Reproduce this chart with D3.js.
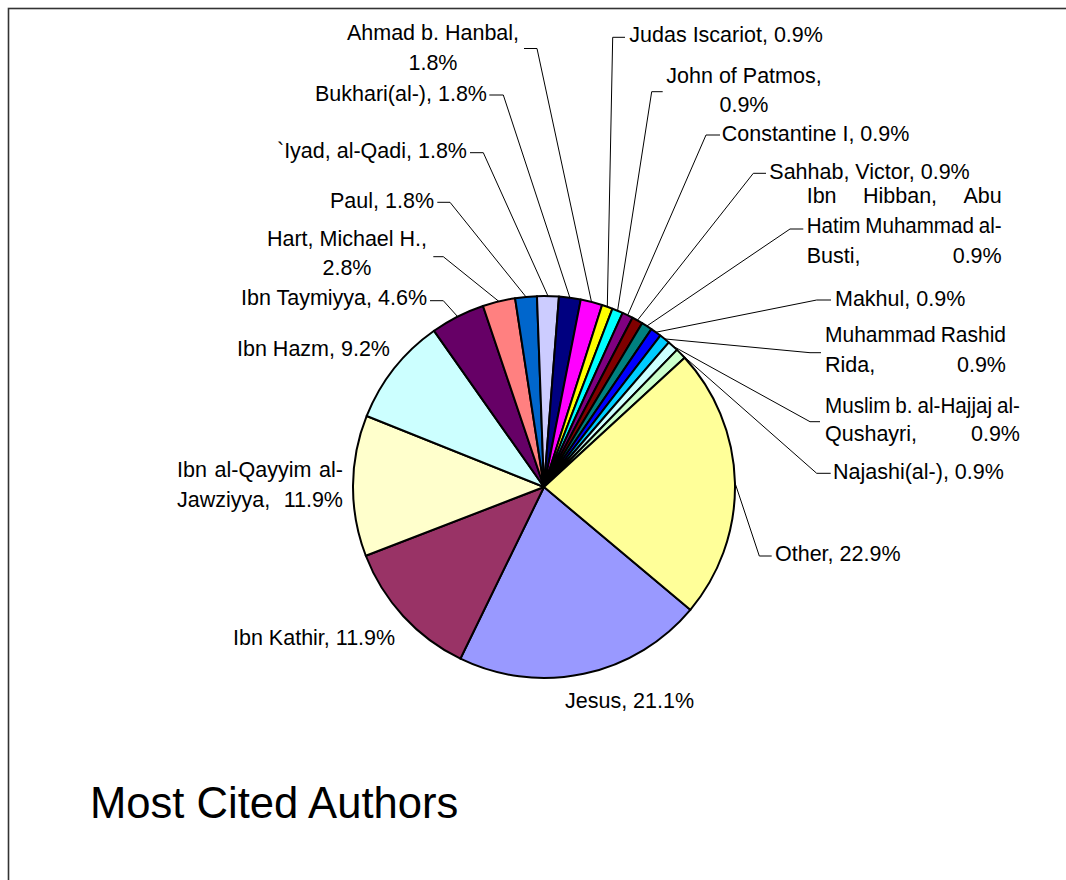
<!DOCTYPE html>
<html>
<head>
<meta charset="utf-8">
<script src="https://cdn.jsdelivr.net/npm/d3@7"></script>
<style>
  html, body { margin: 0; padding: 0; background: #fff; }
  svg { display: block; }
  text { font-family: "Liberation Sans", Arial, sans-serif; fill: #000; }
</style>
</head>
<body>
<svg id="chart" width="1066" height="880"></svg>
<script>
// ---------- DATA ----------
const categories = [
  "Jesus", "Ibn Kathir", "Ibn al-Qayyim al-Jawziyya", "Ibn Hazm", "Ibn Taymiyya",
  "Hart, Michael H.", "Paul", "`Iyad, al-Qadi", "Bukhari(al-)", "Ahmad b. Hanbal",
  "Judas Iscariot", "John of Patmos", "Constantine I", "Sahhab, Victor",
  "Ibn Hibban, Abu Hatim Muhammad al-Busti", "Makhul", "Muhammad Rashid Rida",
  "Muslim b. al-Hajjaj al-Qushayri", "Najashi(al-)", "Other"
];
const citations = [23, 13, 13, 10, 5, 3, 2, 2, 2, 2, 1, 1, 1, 1, 1, 1, 1, 1, 1, 25];
const sliceColors = [
  "#9999FF", "#993366", "#FFFFCC", "#CCFFFF", "#660066",
  "#FF8080", "#0066CC", "#CCCCFF", "#000080", "#FF00FF",
  "#FFFF00", "#00FFFF", "#800080", "#800000", "#008080",
  "#0000FF", "#00CCFF", "#CCFFFF", "#CCFFCC", "#FFFF99"
];
const chartTitle = "Most Cited Authors";

// ---------- LAYOUT (label placement) ----------
// align: start | end | middle | justify(x0..x1); y = first baseline; breaks = tokens per line
// leader: elbow point and end x of the short horizontal segment
const labelLayout = [
  {align: "start", x: 565, y: 708},
  {align: "start", x: 233, y: 645},
  {align: "justify", x: 177, x1: 343, y: 477, breaks: [4, 2]},
  {align: "start", x: 237, y: 356},
  {align: "end", x: 427, y: 305, elbow: [443.3, 300.7], hx: 430},
  {align: "middle", x: 347, y: 246, lh: 29, breaks: [3, 1], elbow: [443.3, 256.7], hx: 433.3},
  {align: "end", x: 434, y: 208, elbow: [450, 202.3], hx: 437.3},
  {align: "end", x: 467, y: 158.3, elbow: [483.3, 152.7], hx: 470},
  {align: "end", x: 487, y: 100.7, elbow: [503.3, 95], hx: 489.3},
  {align: "middle", x: 433, y: 40, lh: 30, breaks: [3, 1], elbow: [537, 48.5], hx: 524},
  {align: "start", x: 629.3, y: 42.3, elbow: [612.7, 37.3], hx: 625},
  {align: "middle", x: 744, y: 83.3, lh: 28.4, breaks: [3, 1], elbow: [651.7, 91.7], hx: 662.7},
  {align: "start", x: 721.7, y: 140.7, elbow: [706, 135], hx: 720},
  {align: "start", x: 769.3, y: 179, elbow: [753.3, 173.3], hx: 766},
  {align: "justify", x: 806.7, x1: 1001.7, y: 203.3, breaks: [3, 3, 2], elbow: [790, 229], hx: 803.3},
  {align: "start", x: 835, y: 305.7, elbow: [816.7, 300], hx: 831},
  {align: "justify", x: 825, x1: 1006, y: 341.7, breaks: [2, 2], elbow: [810, 352.7], hx: 821},
  {align: "justify", x: 825, x1: 1020, y: 412.5, lh: 28.5, breaks: [5, 2], elbow: [810, 421.7], hx: 820},
  {align: "start", x: 833, y: 479, elbow: [816.7, 473.3], hx: 830.7},
  {align: "start", x: 775, y: 561, elbow: [759.3, 556], hx: 771.7}
];

const W = 1066, H = 880;
const cx = 544, cy = 487, R = 191;
const startDeg = 130;
const FONT = 21.5;
const MIN_GAP = 5;

const svg = d3.select("#chart");
svg.append("rect").attr("width", W).attr("height", H).attr("fill", "#fff");
// frame
svg.append("rect").attr("x", 8.5).attr("y", 8.5).attr("width", W + 20).attr("height", H + 20)
  .attr("fill", "none").attr("stroke", "#333").attr("stroke-width", 1.6);

const total = d3.sum(citations);
const pct = d3.format(".1%");
const data = categories.map((c, i) => ({name: c, value: citations[i], color: sliceColors[i], i}));

const pie = d3.pie().sort(null).value(d => d.value)
  .startAngle(startDeg * Math.PI / 180)
  .endAngle(startDeg * Math.PI / 180 + 2 * Math.PI);
const arcs = pie(data);
const arc = d3.arc().innerRadius(0).outerRadius(R);

const g = svg.append("g").attr("transform", `translate(${cx},${cy})`);
g.selectAll("path.slice").data(arcs).join("path")
  .attr("class", "slice")
  .attr("d", arc)
  .attr("fill", d => d.data.color)
  .attr("stroke", "#000")
  .attr("stroke-width", 2)
  .attr("stroke-linejoin", "round");

// leader lines
arcs.forEach((a, i) => {
  const L = labelLayout[i];
  if (!L.elbow) return;
  const mid = (a.startAngle + a.endAngle) / 2;
  const p0 = [cx + R * Math.sin(mid), cy - R * Math.cos(mid)];
  const pts = [p0, L.elbow, [L.hx, L.elbow[1]]];
  svg.append("path")
    .attr("d", d3.line()(pts))
    .attr("fill", "none")
    .attr("stroke", "#000")
    .attr("stroke-width", 1);
});

// tokenizer: split on spaces and after hyphens followed by a letter
function tokenize(s) {
  const out = [];
  s.split(" ").forEach(w => {
    const parts = w.split(/(?<=-)(?=[A-Za-z])/);
    parts.forEach((p, k) => out.push({t: p, sp: k === parts.length - 1}));
  });
  return out;
}
function joinTokens(toks) {
  let s = "";
  toks.forEach((tk, k) => { s += tk.t; if (tk.sp && k < toks.length - 1) s += " "; });
  return s;
}

// labels
arcs.forEach((a, i) => {
  const L = labelLayout[i];
  const text = a.data.name + ", " + pct(a.data.value / total);
  const toks = tokenize(text);
  const breaks = L.breaks || [toks.length];
  const lh = L.lh || 30;
  let k = 0;
  breaks.forEach((n, li) => {
    const lineToks = toks.slice(k, k + n); k += n;
    const y = L.y + li * lh;
    if (L.align === "justify") {
      const words = [];
      let cur = [];
      lineToks.forEach((tk, j) => {
        cur.push(tk);
        if (tk.sp || j === lineToks.length - 1) { words.push(joinTokens(cur).replace(/ $/, "")); cur = []; }
      });
      const tEls = words.map(w => svg.append("text")
        .attr("y", y).attr("font-size", FONT).text(w));
      let widths = tEls.map(t => t.node().getComputedTextLength());
      const span = L.x1 - L.x;
      const nGaps = words.length - 1;
      let gap = nGaps > 0 ? (span - d3.sum(widths)) / nGaps : 0;
      if (nGaps > 0 && gap < MIN_GAP) {
        // squeeze glyphs slightly so the line fits its box
        const f = (span - MIN_GAP * nGaps) / d3.sum(widths);
        widths = widths.map(w => w * f);
        tEls.forEach((t, j) => t.attr("textLength", widths[j]).attr("lengthAdjust", "spacingAndGlyphs"));
        gap = MIN_GAP;
      }
      let x = L.x;
      tEls.forEach((t, j) => { t.attr("x", x); x += widths[j] + gap; });
    } else {
      svg.append("text")
        .attr("x", L.x).attr("y", y)
        .attr("font-size", FONT)
        .attr("text-anchor", L.align)
        .text(joinTokens(lineToks));
    }
  });
});

// title
svg.append("text")
  .attr("x", 90).attr("y", 818)
  .attr("font-size", 43.6)
  .text(chartTitle);
</script>
</body>
</html>
